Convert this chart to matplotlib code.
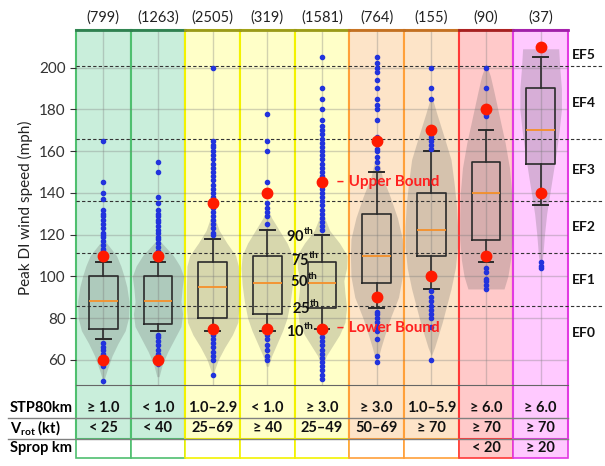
import matplotlib.pyplot as plt
from matplotlib.patches import Rectangle
from matplotlib.transforms import blended_transform_factory

plt.rcParams['font.family'] = ['Lato', 'DejaVu Sans']
plt.rcParams['mathtext.fontset'] = 'custom'
plt.rcParams['mathtext.rm'] = 'Lato'
plt.rcParams['mathtext.bf'] = 'Lato:bold'

# ---- data ----
counts = [799, 1263, 2505, 319, 1581, 764, 155, 90, 37]
stp = ['≥ 1.0', '< 1.0', '1.0–2.9', '< 1.0', '≥ 3.0', '≥ 3.0', '1.0–5.9', '≥ 6.0', '≥ 6.0']
vrot = ['< 25', '< 40', '25–69', '≥ 40', '25–49', '50–69', '≥ 70', '≥ 70', '≥ 70']
sprop = ['', '', '', '', '', '', '', '< 20', '≥ 20']

p10 = [70, 74, 74, 74, 75, 85, 94, 107, 134]
p25 = [75, 77, 80, 82, 85, 97, 110, 117.5, 154]
p50 = [88, 88, 95, 97, 97, 110, 122, 140, 170]
p75 = [100, 100, 107, 110, 107, 130, 140, 155, 190]
p90 = [107, 107, 118, 122, 120, 150, 160, 170, 205]
upper = [110, 110, 135, 140, 145, 165, 170, 180, 210]
lower = [60, 60, 75, 75, 75, 90, 100, 110, 140]

fliers = [
    [165, 145, 140, 137, 132, 130, 129, 127, 125, 123, 121, 120, 119, 117, 115, 113, 112,
     68, 66, 65, 63, 62, 58, 57, 50],
    [155, 150, 138, 135, 132, 130, 129, 127, 126, 124, 122, 121, 119, 118, 116, 114, 112,
     72, 71, 69, 67, 65, 63, 62, 58],
    [200, 165, 163, 162, 160, 158, 156, 154, 152, 150, 148, 146, 144, 142, 140, 138, 136,
     133, 131, 129, 127, 125, 123, 121, 120, 72, 70, 68, 66, 64, 62, 60, 53],
    [178, 165, 160, 145, 135, 133, 131, 129, 125, 72, 70, 67, 65, 62, 60],
    [205, 190, 185, 180, 175, 172, 170, 168, 166, 164, 162, 160, 158, 156, 154, 152, 150,
     148, 146, 144, 142, 140, 138, 136, 134, 132, 130, 128, 126, 124, 122,
     73, 71, 69, 67, 65, 63, 61, 59, 57, 55, 53, 51],
    [205, 202, 200, 198, 194, 190, 185, 182, 180, 175, 167, 161, 160, 157, 155, 152,
     83, 82, 80, 78, 76, 74, 70, 62, 59],
    [200, 190, 185, 167, 165, 163, 161, 93, 90, 88, 86, 84, 82, 80, 76, 60],
    [200, 190, 178, 177, 104, 102, 99, 98, 96, 94],
    [107, 105, 104],
]

# violin outlines: heights (mph) and half-widths (fraction of a column)
violin_y = [
    [51, 56, 62, 68, 74, 80, 88, 95, 100, 105, 110, 114, 118],
    [52, 58, 64, 70, 76, 82, 88, 94, 100, 105, 110, 114, 118],
    [54, 60, 66, 72, 78, 85, 95, 105, 110, 116, 122, 128, 132],
    [57, 62, 68, 74, 80, 88, 96, 104, 110, 116, 122, 128, 133],
    [58, 62, 67, 72, 78, 85, 92, 98, 104, 110, 116, 122, 128, 134],
    [60, 66, 72, 80, 90, 100, 110, 118, 128, 138, 148, 156, 160],
    [62, 66, 72, 78, 86, 94, 104, 114, 124, 134, 144, 156, 168, 178, 187],
    [94, 100, 108, 118, 128, 140, 152, 164, 176, 188, 196, 202],
    [102, 110, 120, 130, 140, 150, 160, 170, 180, 190, 200, 209],
]
violin_w = [
    [0.02, 0.08, 0.16, 0.27, 0.40, 0.46, 0.47, 0.43, 0.38, 0.32, 0.24, 0.12, 0.0],
    [0.02, 0.08, 0.18, 0.30, 0.42, 0.45, 0.42, 0.44, 0.47, 0.40, 0.28, 0.14, 0.0],
    [0.02, 0.10, 0.22, 0.36, 0.46, 0.48, 0.48, 0.47, 0.42, 0.26, 0.12, 0.04, 0.0],
    [0.02, 0.08, 0.18, 0.28, 0.36, 0.42, 0.46, 0.48, 0.46, 0.36, 0.22, 0.08, 0.0],
    [0.02, 0.08, 0.20, 0.32, 0.42, 0.45, 0.42, 0.40, 0.45, 0.46, 0.32, 0.14, 0.05, 0.0],
    [0.02, 0.08, 0.15, 0.25, 0.40, 0.47, 0.48, 0.47, 0.38, 0.25, 0.10, 0.03, 0.0],
    [0.0, 0.06, 0.13, 0.20, 0.28, 0.36, 0.44, 0.48, 0.48, 0.46, 0.42, 0.36, 0.22, 0.10, 0.0],
    [0.33, 0.40, 0.45, 0.48, 0.48, 0.47, 0.43, 0.35, 0.25, 0.15, 0.08, 0.0],
    [0.0, 0.04, 0.07, 0.11, 0.17, 0.23, 0.29, 0.34, 0.38, 0.38, 0.35, 0.33],
]

ef_lines = [86, 111, 136, 166, 201]
ef_names = ['EF0', 'EF1', 'EF2', 'EF3', 'EF4', 'EF5']
ef_label_y = [73, 98.5, 123.5, 151, 183, 206]

fill = ['#c9eedb', '#c9eedb', '#ffffc8', '#ffffc8', '#ffffc8', '#fde4c8', '#fde4c8', '#ffc9c9', '#ffc9ff']
edge = ['#4fbf6f', '#4fbf6f', '#f2f200', '#f2f200', '#f2f200', '#ffa03a', '#ffa03a', '#ff3838', '#e23ae2']
topc = ['#2f8050', '#2f8050', '#9a9a1a', '#9a9a1a', '#9a9a1a', '#c27022', '#c27022', '#a52020', '#a020a8']

# ---- figure ----
fig = plt.figure(figsize=(6.05, 4.66), dpi=100)
ax = fig.add_axes([0.1256, 0.1738, 0.8132, 0.7618])
ax.set_xlim(-0.5, 8.5)
ax.set_ylim(48, 218)
tr = blended_transform_factory(ax.transData, ax.transAxes)
tr_y = blended_transform_factory(ax.transAxes, ax.transData)

row1, row2, row3 = -0.0648, -0.121, -0.1775
line1, line2, line3 = -0.093, -0.152, -0.2056

for i in range(9):
    ax.add_patch(Rectangle((i - 0.5, line2), 1, 1 - line2, transform=tr, facecolor=fill[i],
                           edgecolor=edge[i], lw=1.5, clip_on=False, zorder=0))
    ax.add_patch(Rectangle((i - 0.5, line3), 1, line2 - line3, transform=tr,
                           facecolor=fill[i] if i >= 7 else 'white',
                           edgecolor=edge[i], lw=1.2, clip_on=False, zorder=0))
    ax.plot([i - 0.5, i + 0.5], [1, 1], transform=tr, color=topc[i], lw=2, clip_on=False, zorder=3)
    ax.axvline(i, color='#808080', alpha=0.35, lw=1, zorder=0.6)

for v in range(60, 220, 20):
    ax.axhline(v, color='#808080', alpha=0.35, lw=1, zorder=0.6)

for i in range(9):
    w = violin_w[i]
    ax.fill_betweenx(violin_y[i], [i - x for x in w], [i + x for x in w],
                     color='#606060', alpha=0.25, lw=0, zorder=1)

for v in ef_lines:
    ax.plot([0, 1.072], [v, v], transform=tr_y, color='#333333', ls=(0, (3, 2)),
            lw=0.8, clip_on=False, zorder=1.5)
for name, v in zip(ef_names, ef_label_y):
    ax.text(1.008, v, name, transform=tr_y, fontsize=10, fontweight='bold',
            va='center', ha='left', color='#111111')

stats = []
for i in range(9):
    stats.append(dict(med=p50[i], q1=p25[i], q3=p75[i], whislo=p10[i], whishi=p90[i],
                      fliers=fliers[i]))
ax.bxp(stats, positions=range(9), widths=0.52, capwidths=0.27, manage_ticks=False,
       boxprops=dict(color='#2b2b2b', lw=1.2),
       whiskerprops=dict(color='#2b2b2b', lw=1.2),
       capprops=dict(color='#2b2b2b', lw=1.4),
       medianprops=dict(color='#f5902a', lw=1.3),
       flierprops=dict(marker='o', ms=3, mfc='#2233dd', mec='#2233dd'),
       zorder=2)

ax.plot(range(9), upper, 'o', color='#ff1a00', ms=7.5, zorder=4)
ax.plot(range(9), lower, 'o', color='#ff1a00', ms=7.5, zorder=4)

# percentile annotations
for txt, x, y in [('90', 3.34, 120), ('75', 3.44, 108.5), ('50', 3.42, 98.5),
                  ('25', 3.45, 85.5), ('10', 3.34, 74.5)]:
    ax.text(x, y, txt + r'$^{\mathbf{th}}$', fontsize=10.5, fontweight='bold',
            va='center', ha='left', color='#111111', zorder=5)
ax.text(4.25, 145, '– Upper Bound', fontsize=11, fontweight='bold', color='#ff2020',
        va='center', ha='left', zorder=5)
ax.text(4.25, 75.5, '– Lower Bound', fontsize=11, fontweight='bold', color='#ff2020',
        va='center', ha='left', zorder=5)

for i, n in enumerate(counts):
    ax.text(i, 1.034, '(%d)' % n, transform=tr, fontsize=10.5, ha='center', va='center',
            color='#222222')

# table below the axes
for y in [line1, line2]:
    ax.plot([-0.138, 1], [y, y], transform=ax.transAxes, color='#808080', lw=1,
            clip_on=False, zorder=3)
ax.text(-0.134, row1, 'STP80km', transform=ax.transAxes, fontsize=10.5, fontweight='bold',
        va='center', ha='left')
ax.text(-0.134, row2, r'V$_{\mathbf{rot}}$ (kt)', transform=ax.transAxes, fontsize=10.5,
        fontweight='bold', va='center', ha='left')
ax.text(-0.134, row3, 'Sprop km', transform=ax.transAxes, fontsize=10.5, fontweight='bold',
        va='center', ha='left')
for i in range(9):
    ax.text(i, row1, stp[i], transform=tr, fontsize=10.5, fontweight='bold',
            ha='center', va='center', color='#111111')
    ax.text(i, row2, vrot[i], transform=tr, fontsize=10.5, fontweight='bold',
            ha='center', va='center', color='#111111')
    if sprop[i]:
        ax.text(i, row3, sprop[i], transform=tr, fontsize=10.5, fontweight='bold',
                ha='center', va='center', color='#111111')

ax.set_xticks([])
ax.set_yticks(range(60, 220, 20))
ax.tick_params(axis='y', labelsize=11, colors='#333333', length=4)
ax.set_ylabel('Peak DI wind speed (mph)', fontsize=11, color='#222222', labelpad=4)
for s in ['top', 'right', 'left']:
    ax.spines[s].set_visible(False)
ax.spines['bottom'].set_color('#666666')

fig.savefig('out.png', dpi=100)
